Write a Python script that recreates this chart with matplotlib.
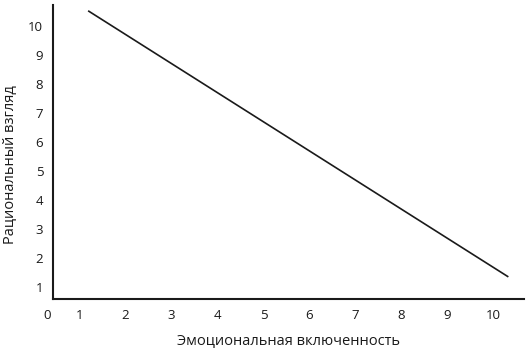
import matplotlib
matplotlib.use("Agg")
import matplotlib.pyplot as plt

x_ticks = [1, 2, 3, 4, 5, 6, 7, 8, 9, 10]
x_origin_label = "0"
y_ticks = [1, 2, 3, 4, 5, 6, 7, 8, 9, 10]
line_x = [1.19, 10.32]
line_y = [10.54, 1.35]
x_label = "Эмоциональная включенность"
y_label = "Рациональный взгляд"

plt.rcParams['font.family'] = ['Open Sans', 'DejaVu Sans']
ink = '#1a1a1a'

fig = plt.figure(figsize=(5.3, 3.54), dpi=100)
ax = fig.add_axes([0.1, 0.1554, 0.8887, 0.8305])
ax.plot(line_x, line_y, color=ink, lw=1.2, solid_capstyle='butt')
ax.set_xticks(x_ticks)
ax.set_yticks(y_ticks)
ax.set_xlim(0.427, 10.66)
ax.set_ylim(0.587, 10.74)
ax.tick_params(length=0, labelsize=9.5, pad=7, colors=ink)
ax.annotate(x_origin_label, xy=(-0.0127, 0), xycoords='axes fraction',
            xytext=(0, -7), textcoords='offset points',
            ha='center', va='top', fontsize=9.5, color=ink)
for s in ['top', 'right']:
    ax.spines[s].set_visible(False)
for s in ['left', 'bottom']:
    ax.spines[s].set_linewidth(1.5)
    ax.spines[s].set_color(ink)
ax.set_xlabel(x_label, fontsize=10.5, labelpad=8, color=ink)
ax.set_ylabel(y_label, fontsize=10.5, color=ink)
ax.yaxis.set_label_coords(-0.074, 0.456)
fig.savefig("out.png", dpi=100)
